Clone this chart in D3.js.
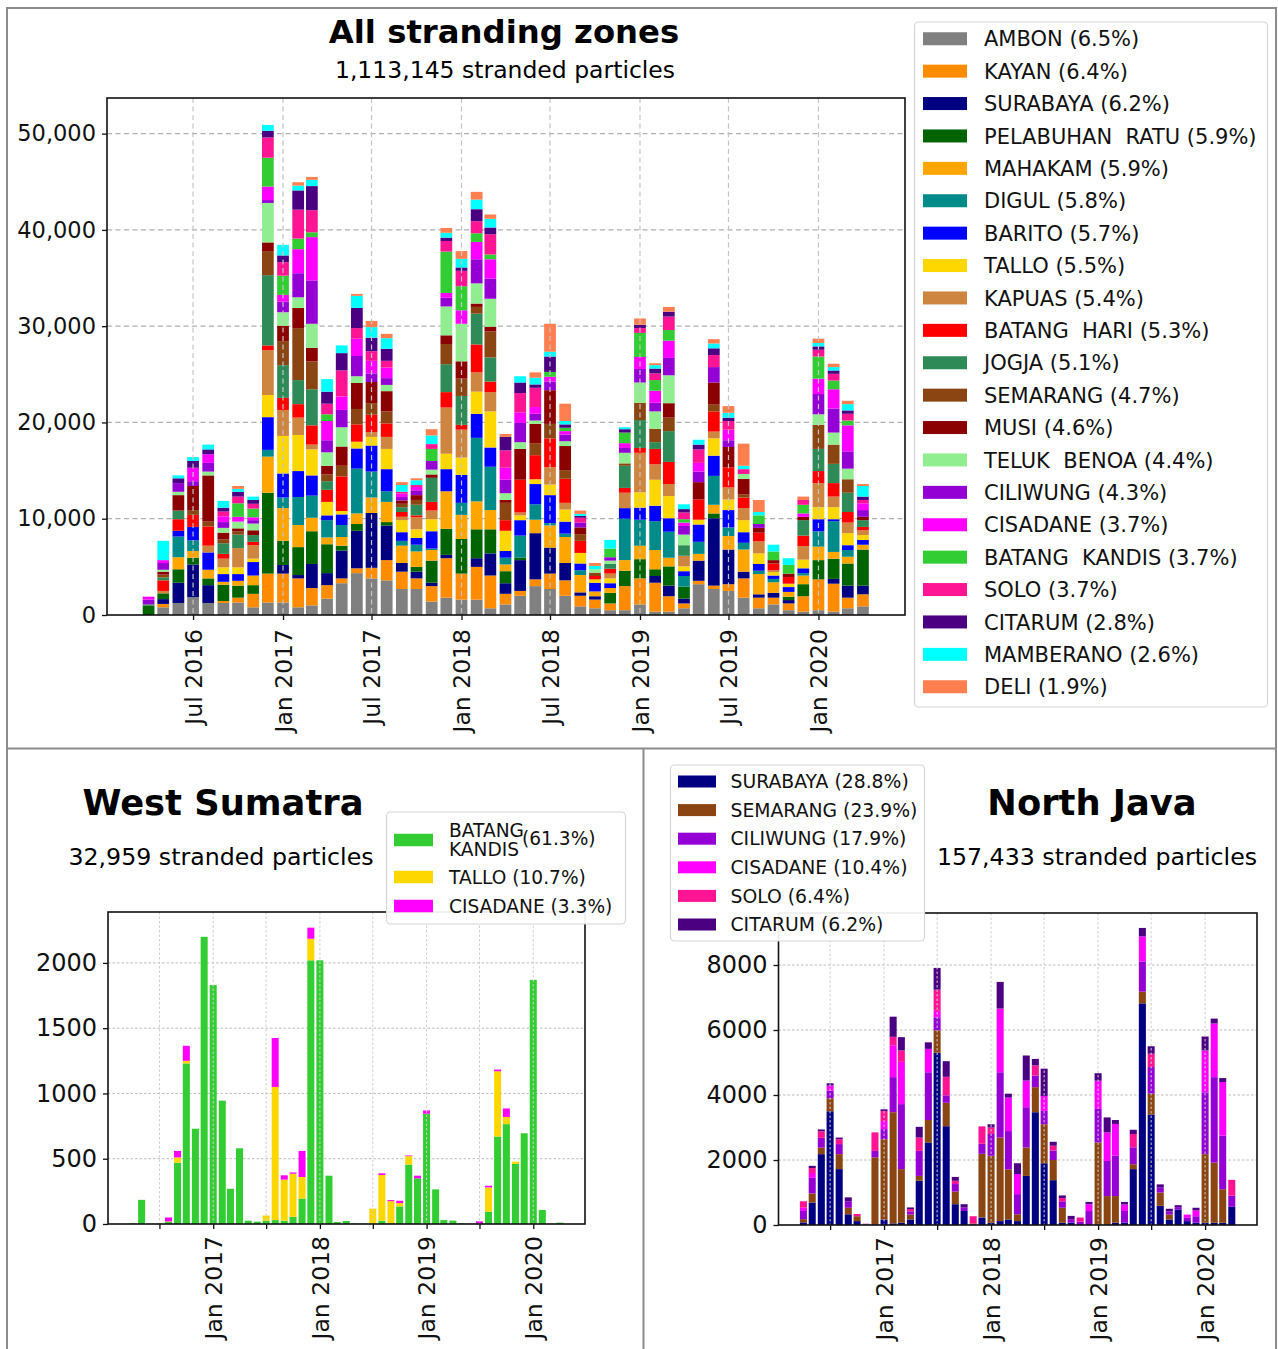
<!DOCTYPE html>
<html>
<head>
<meta charset="utf-8">
<script src="https://cdn.jsdelivr.net/npm/d3@7"></script>
<style>
  body { margin: 0; background: #fff; }
  svg { display: block; font-family: "DejaVu Sans", sans-serif; }
  text { white-space: pre; }
</style>
</head>
<body>
<svg id="fig" width="1278" height="1349"></svg>
<script>
"use strict";

// one bar per month, Apr 2016 .. Apr 2020
const months = d3.timeMonth.range(new Date(2016, 3, 1), new Date(2020, 4, 1));

const topTickLabels = ["Jul 2016", "Jan 2017", "Jul 2017", "Jan 2018", "Jul 2018", "Jan 2019", "Jul 2019", "Jan 2020"];
const topYTicks = [0, 10000, 20000, 30000, 40000, 50000];
const wsYTicks = [0, 500, 1000, 1500, 2000];
const njYTicks = [0, 2000, 4000, 6000, 8000];

// ---- All stranding zones (particles per month) ----
const zoneNames = ["AMBON", "KAYAN", "SURABAYA", "PELABUHAN RATU", "MAHAKAM", "DIGUL", "BARITO", "TALLO",
  "KAPUAS", "BATANG HARI", "JOGJA", "SEMARANG", "MUSI", "TELUK BENOA", "CILIWUNG", "CISADANE",
  "BATANG KANDIS", "SOLO", "CITARUM", "MAMBERANO", "DELI"];
const zoneShares = ["6.5%", "6.4%", "6.2%", "5.9%", "5.9%", "5.8%", "5.7%", "5.5%", "5.4%", "5.3%", "5.1%",
  "4.7%", "4.6%", "4.4%", "4.3%", "3.7%", "3.7%", "3.7%", "2.8%", "2.6%", "1.9%"];

//                2016 Apr..Dec                                   | 2017 Jan..Dec                                                  | 2018 Jan..Dec                                                | 2019 Jan..Dec                                               | 2020 Jan..Apr
const ambon     = [0,800,1250,1850,1250,1250,1300,800,1300,          1300,800,1000,1700,3300,4350,3800,3600,2700,2700,1400,1800,    1600,1600,700,1100,2000,3000,2700,2000,900,700,500,500,        1100,350,350,700,3200,2700,2500,1800,700,1100,500,350,        500,350,700,900];
const kayan     = [0,350,0,0,0,200,500,1400,3000,                    3000,3000,1800,1400,500,500,1100,2100,1800,1100,1600,4100,     2700,3400,3400,1100,500,700,1600,1600,1100,900,700,2500,       2700,3000,1600,500,350,350,700,2000,1100,700,700,1600,        3200,2900,1100,1250];
const surabaya  = [0,500,2100,3400,1850,0,0,0,0,                     900,350,2500,1250,2900,3900,5700,3600,900,700,350,350,         0,900,2300,1100,3200,4800,2700,1800,350,350,0,0,               0,700,1100,500,2100,7000,3600,700,350,500,350,0,              0,500,1250,900];
const pelRatu   = [1000,600,1400,700,700,1700,1250,900,8400,         2500,2900,3400,3000,500,700,0,350,0,500,2300,2700,             3600,3000,2500,1250,250,0,0,0,0,0,1100,1600,                   2000,700,2000,1250,0,500,0,0,0,0,350,1250,                    2000,2100,2300,3750];
const mahakam   = [0,0,1250,700,900,300,500,1000,3750,               3400,2300,1400,700,900,1100,1600,2100,1800,1600,1100,3900,     2500,2900,2000,700,0,1400,2300,2700,1800,500,500,1100,         1400,2000,900,0,700,900,1400,2300,2100,1100,500,900,          1400,700,700,500];
const digul     = [0,0,2150,1100,0,0,0,0,700,                        1100,2900,2300,1800,1250,4650,2700,1100,500,700,150,0,         1250,6600,4500,700,2300,1600,250,350,500,0,0,4300,             2700,3000,2700,1100,1250,3000,900,700,350,350,0,250,          1600,3200,700,0];
const barito    = [0,0,600,1400,1800,800,700,1400,3400,              2500,2700,2100,500,1100,2100,2700,2300,900,700,1800,2300,      2900,2500,2000,700,1600,2100,2900,1250,700,900,500,1100,       1250,1600,1400,500,1800,2100,1800,1100,700,350,500,500,       1250,200,500,500];
const tallo     = [0,0,0,0,0,700,700,350,2300,                       3900,3750,2700,1400,350,700,900,2100,1250,900,1250,1600,       1800,2300,3750,2100,500,500,1100,1250,1100,350,500,0,          1600,2700,2300,500,500,1800,1100,1250,1100,350,350,900,       1250,1250,1250,500];
const kapuas    = [0,250,0,0,700,900,2000,1400,4650,                 2700,1800,500,0,0,0,500,1250,350,1250,900,4800,                2900,2000,2000,0,300,0,1800,700,0,0,500,1600,                  4100,1600,1250,1100,0,700,1250,1250,1250,200,0,1400,          2500,1100,1100,500];
const batangHari= [0,1100,1200,1250,2000,500,0,350,500,              1250,1400,2000,1250,3600,1800,1800,1400,500,200,900,1600,      500,2900,1100,1100,3400,2500,3000,2500,1250,350,500,500,       500,1600,2300,0,2100,2100,2100,1100,900,700,700,1100,         1250,1400,1100,350];
const jogja     = [100,300,900,0,0,1100,1400,700,7300,               3400,2500,3750,900,0,0,0,0,500,1100,2500,2900,                 3000,3200,2500,0,0,0,0,0,0,0,500,2300,                         2900,700,3200,1100,0,0,0,0,0,0,0,1600,                        2300,2000,2000,700];
const semarang  = [0,300,0,500,500,400,350,0,2500,                   2500,5400,2900,700,1100,1600,1200,1250,350,500,0,2100,         1800,700,2700,1800,0,1250,1500,900,700,350,0,250,              1800,1400,1400,0,0,700,0,350,0,0,0,0,                         2500,2000,1400,0];
const musi      = [0,300,1600,2500,4800,700,300,500,900,             1600,2100,1400,900,2000,2700,2200,2100,350,500,350,900,        1800,350,500,300,3200,2000,3500,2500,700,0,0,0,                0,0,1500,0,1800,2300,2100,1600,500,350,350,350,               0,0,0,350];
const telukBenoa= [0,200,350,0,400,500,700,700,4100,                 1400,1100,2500,1400,2000,700,0,650,0,0,500,3000,               3900,2100,2900,700,700,350,0,500,0,350,350,1100,               2100,1800,2900,1100,0,0,0,500,0,0,0,0,                        1100,1250,1100,0];
const ciliwung  = [500,700,900,500,900,600,0,350,300,                1100,2500,4500,1250,1800,2100,900,700,350,500,900,900,         0,2500,2100,1400,2000,700,900,700,500,0,350,500,               1400,900,1800,900,1100,1600,700,0,400,0,0,0,                  2100,2500,1800,700];
const cisadane  = [300,300,0,1400,900,600,500,300,1400,              700,2500,4500,2000,1400,1800,1300,1100,350,350,0,500,          1400,1800,2000,1250,1100,700,500,350,0,0,0,500,                1250,1250,1800,350,900,0,1100,0,0,0,0,350,                    1600,2000,2700,700];
const batangKandis = [0,0,0,0,0,0,1400,900,3000,                     2000,1100,500,700,0,0,0,0,0,0,1250,4300,                       2500,900,500,0,0,0,500,350,0,0,900,1100,                       2500,1100,1100,350,0,0,0,0,900,900,900,900,                   2300,900,500,0];
const solo      = [0,0,0,0,0,500,700,500,2100,                       1400,3000,2300,1100,2700,1100,1000,700,200,200,500,1100,       1600,1250,2100,1800,2000,2000,0,0,500,0,0,0,                   500,700,1400,700,1400,1250,900,500,0,0,0,500,                 700,700,700,350];
const citarum   = [0,0,500,700,500,400,500,400,700,                  700,2000,2500,1250,1800,2100,1400,1250,0,0,0,350,              350,1250,700,1400,1100,350,1600,350,200,0,0,350,               350,500,500,350,500,700,350,0,0,0,0,0,                        350,350,350,350];
const mamberano = [0,2000,300,400,500,700,300,350,600,               1100,500,650,1300,800,1250,1100,1100,700,500,900,500,          900,1000,900,0,650,700,500,350,200,350,900,200,                0,350,0,500,500,500,500,350,350,700,700,0,                    350,350,650,1100];
const deli      = [0,0,0,0,0,0,300,0,0,                              0,350,300,0,0,200,650,450,300,200,650,500,                     800,800,450,300,0,550,2900,1800,350,300,0,0,                   650,200,500,0,0,450,700,2300,1250,0,0,350,                    450,350,350,200];

const zoneValues = [ambon, kayan, surabaya, pelRatu, mahakam, digul, barito, tallo, kapuas, batangHari, jogja,
  semarang, musi, telukBenoa, ciliwung, cisadane, batangKandis, solo, citarum, mamberano, deli];
const zoneColors = ["#808080", "#ff8c00", "#000080", "#006400", "#ffa500", "#008b8b", "#0000ff", "#ffd700",
  "#cd853f", "#ff0000", "#2e8b57", "#8b4513", "#8b0000", "#90ee90", "#9400d3", "#ff00ff", "#32cd32",
  "#ff1493", "#4b0082", "#00ffff", "#ff7f50"];

// ---- West Sumatra ----
const wsNames = ["BATANG KANDIS", "TALLO", "CISADANE"];
const wsShares = ["61.3%", "10.7%", "3.3%"];
const wsBatangKandis = [5,185,3,3,15,470,1230,730,2200,   1830,945,270,580,25,18,25,30,25,55,195,2020,   2020,370,15,23,3,3,3,25,5,135,455,350,   845,265,30,26,5,2,2,95,670,765,460,695,   1870,107,2,10];
const wsTallo        = [0,0,0,0,5,40,20,0,0,              0,0,0,0,0,0,40,1020,315,330,165,165,           0,0,0,0,0,0,115,350,170,25,65,0,         0,0,0,0,0,0,0,185,500,55,18,0,            0,0,0,0];
const wsCisadane     = [0,0,0,0,30,50,115,0,0,            0,0,0,0,0,0,0,375,33,10,200,85,                0,0,0,0,0,0,0,13,8,18,5,20,              25,0,0,0,0,0,18,13,13,65,0,0,             0,0,0,0];
const wsColors = ["#32cd32", "#ffd700", "#ff00ff"];

// ---- North Java ----
const njNames = ["SURABAYA", "SEMARANG", "CILIWUNG", "CISADANE", "SOLO", "CITARUM"];
const njShares = ["28.8%", "23.9%", "17.9%", "10.4%", "6.4%", "6.2%"];
const njSurabaya = [80,690,2180,3500,1720,330,120,10,20,     170,50,70,170,1360,2540,5300,3040,640,430,20,230,      70,120,170,120,1510,3470,1900,1380,70,70,0,0,      20,20,70,70,1720,6820,3400,590,170,480,120,70,   70,70,70,560];
const njSemarang = [100,280,200,400,460,200,150,10,2060,     2470,3420,1650,150,150,690,690,720,390,0,30,1960,      2060,2570,1540,210,875,770,1200,620,460,0,0,0,     2520,870,820,0,150,360,640,410,150,0,0,0,        2110,1850,1030,0];
const njCiliwung = [250,480,300,240,310,200,0,0,200,         310,1080,2000,100,770,1470,400,230,230,110,0,310,      670,2010,1180,620,1240,360,410,290,200,110,100,430, 1030,1080,1240,360,520,930,820,150,100,70,100,200, 1900,2630,1650,340];
const njCisadane = [100,150,0,150,0,0,0,10,0,                250,980,1300,0,0,720,200,0,0,0,0,0,                    0,1960,1030,620,820,0,460,0,0,0,0,210,             870,880,980,200,0,770,0,0,0,0,100,180,           1290,1650,1650,0];
const njSolo     = [200,150,200,0,150,0,70,10,570,           310,260,350,70,410,0,650,570,100,0,220,535,            200,0,0,0,0,310,0,150,100,0,130,0,                 0,0,0,0,410,0,410,0,0,0,0,0,                     0,0,0,490];
const njCitarum  = [0,70,60,70,50,120,0,0,0,                 50,620,410,50,330,200,670,480,120,100,0,0,             100,820,120,330,770,200,840,120,80,100,0,70,       230,460,120,80,130,260,230,100,80,60,0,80,       430,150,120,0];
const njColors = ["#000080", "#8b4513", "#9400d3", "#ff00ff", "#ff1493", "#4b0082"];

// --------------------------------------------------------------------
const fig = d3.select("#fig");
const xDomain = [new Date(2016, 0, 7), new Date(2020, 5, 26)];
const tickDates = topTickLabels.map(d3.timeParse("%b %Y"));
const fmtMonth = d3.timeFormat("%b %Y");
const ink = "#111";

// panel frames
fig.append("rect").attr("x", 7).attr("y", 8).attr("width", 1269).attr("height", 1350)
  .attr("fill", "none").attr("stroke", "#8c8c8c").attr("stroke-width", 2);
fig.append("line").attr("x1", 7).attr("x2", 1276).attr("y1", 748.5).attr("y2", 748.5)
  .attr("stroke", "#8c8c8c").attr("stroke-width", 2);
fig.append("line").attr("x1", 643.5).attr("x2", 643.5).attr("y1", 748).attr("y2", 1349)
  .attr("stroke", "#8c8c8c").attr("stroke-width", 2);

function stackedChart(o) {
  const x = d3.scaleTime().domain(xDomain).range([o.left, o.right]);
  const y = d3.scaleLinear().domain([0, o.yMax]).range([o.bottom, o.top]);
  const g = fig.append("g");

  const rows = months.map((m, i) => {
    const r = { date: m };
    o.keys.forEach((k, j) => { r[k] = o.values[j][i]; });
    return r;
  });
  const layers = d3.stack().keys(o.keys)(rows);
  const barW = x(d3.timeDay.offset(months[0], 24)) - x(months[0]);

  // horizontal grid sits behind the bars
  g.append("g").selectAll("line").data(o.yTicks.slice(1)).join("line")
    .attr("x1", o.left).attr("x2", o.right)
    .attr("y1", d => y(d)).attr("y2", d => y(d))
    .attr("stroke", o.grid).attr("stroke-width", o.gridW).attr("stroke-dasharray", o.dash);

  g.append("g").selectAll("g").data(layers).join("g")
    .attr("fill", (d, i) => o.colors[i])
    .selectAll("rect").data(d => d).join("rect")
    .attr("x", d => x(d.data.date) - barW / 2)
    .attr("y", d => y(d[1]))
    .attr("width", barW)
    .attr("height", d => y(d[0]) - y(d[1]));

  // vertical grid is drawn over the bars
  g.append("g").selectAll("line").data(tickDates).join("line")
    .attr("x1", d => x(d)).attr("x2", d => x(d))
    .attr("y1", o.top).attr("y2", o.bottom)
    .attr("stroke", o.vgrid).attr("stroke-width", o.gridW).attr("stroke-dasharray", o.dash);

  g.append("rect").attr("x", o.left).attr("y", o.top)
    .attr("width", o.right - o.left).attr("height", o.bottom - o.top)
    .attr("fill", "none").attr("stroke", ink).attr("stroke-width", 1.6);

  const yAxis = g.append("g").attr("transform", `translate(${o.left},0)`)
    .call(d3.axisLeft(y).tickValues(o.yTicks).tickFormat(o.yFormat).tickSize(5).tickPadding(6));
  yAxis.select(".domain").remove();
  yAxis.attr("font-family", null).attr("font-size", o.yFont).attr("color", ink);
  yAxis.selectAll("line").attr("stroke-width", 1.3);

  const xAxis = g.append("g").attr("transform", `translate(0,${o.bottom})`)
    .call(d3.axisBottom(x).tickValues(tickDates).tickFormat(o.xFormat).tickSize(5));
  xAxis.select(".domain").remove();
  xAxis.attr("font-family", null).attr("font-size", o.xFont).attr("color", ink);
  xAxis.selectAll("line").attr("stroke-width", 1.3);
  xAxis.selectAll("text")
    .attr("transform", "rotate(-90)")
    .attr("text-anchor", "end")
    .attr("x", -o.xPad).attr("y", 0).attr("dy", "0.35em");
}

function legend(o) {
  const g = fig.append("g");
  g.append("rect").attr("x", o.x).attr("y", o.y).attr("width", o.w).attr("height", o.h)
    .attr("rx", 4).attr("fill", "#fff").attr("fill-opacity", 0.92)
    .attr("stroke", "#d6d6d6").attr("stroke-width", 1.2);
  o.rows.forEach((r, i) => {
    const cy = o.rowY[i];
    g.append("rect").attr("x", o.sx).attr("y", cy - o.sh / 2)
      .attr("width", o.sw).attr("height", o.sh).attr("fill", o.colors[i]);
    r.forEach(t => {
      g.append("text").attr("x", t.x).attr("y", cy + (t.dy || 0)).attr("dy", "0.36em")
        .attr("font-size", o.font).attr("fill", ink).attr("xml:space", "preserve").text(t.text);
    });
  });
}

function title(x, y, size, weight, str) {
  fig.append("text").attr("x", x).attr("y", y).attr("text-anchor", "middle")
    .attr("font-size", size).attr("font-weight", weight).attr("fill", "#000").text(str);
}

// ---- top panel ----
stackedChart({
  left: 107, right: 905, top: 98, bottom: 615, yMax: 53700,
  keys: zoneNames, values: zoneValues, colors: zoneColors,
  yTicks: topYTicks, yFormat: d3.format(","), yFont: 22.5,
  xFormat: fmtMonth, xFont: 23.5, xPad: 14,
  grid: "#b0b0b0", vgrid: "#c4c4c4", gridW: 1.2, dash: "5,3.5"
});
title(504, 43, 32.3, "bold", "All stranding zones");
title(505, 78, 23.5, "normal", "1,113,145 stranded particles");
legend({
  x: 914.5, y: 22, w: 353, h: 685, sx: 923, sw: 44, sh: 13, font: 21, colors: zoneColors,
  rowY: zoneNames.map((n, i) => 38.75 + i * 32.4),
  rows: zoneNames.map((n, i) => [{ x: 984, text: `${n.replace(/ /g, "  ")} (${zoneShares[i]})` }])
});

// ---- West Sumatra ----
stackedChart({
  left: 108, right: 585, top: 912, bottom: 1224, yMax: 2390,
  keys: wsNames, values: [wsBatangKandis, wsTallo, wsCisadane], colors: wsColors,
  yTicks: wsYTicks, yFormat: d3.format("d"), yFont: 24,
  xFormat: d => d.getMonth() === 0 ? fmtMonth(d) : "", xFont: 23.5, xPad: 12,
  grid: "#bdbdbd", vgrid: "#cfcfcf", gridW: 1, dash: "2.5,2"
});
title(223, 815, 35.3, "bold", "West Sumatra");
title(221, 865, 23.7, "normal", "32,959 stranded particles");
legend({
  x: 386.5, y: 812, w: 239, h: 112, sx: 394, sw: 39, sh: 12.5, font: 18.6, colors: wsColors,
  rowY: [840, 877, 906],
  rows: [
    [{ x: 449, dy: -10, text: "BATANG" }, { x: 449, dy: 9, text: "KANDIS" }, { x: 522, dy: -2, text: `(${wsShares[0]})` }],
    [{ x: 449, text: `${wsNames[1]} (${wsShares[1]})` }],
    [{ x: 449, text: `${wsNames[2]} (${wsShares[2]})` }]
  ]
});

// ---- North Java ----
stackedChart({
  left: 778.5, right: 1257, top: 913, bottom: 1225, yMax: 9600,
  keys: njNames, values: [njSurabaya, njSemarang, njCiliwung, njCisadane, njSolo, njCitarum], colors: njColors,
  yTicks: njYTicks, yFormat: d3.format("d"), yFont: 24,
  xFormat: d => d.getMonth() === 0 ? fmtMonth(d) : "", xFont: 23.5, xPad: 12,
  grid: "#bdbdbd", vgrid: "#cfcfcf", gridW: 1, dash: "2.5,2"
});
title(1092, 815, 35.3, "bold", "North Java");
title(1097, 865, 23.7, "normal", "157,433 stranded particles");
legend({
  x: 670.5, y: 765, w: 254, h: 176, sx: 678, sw: 38, sh: 12, font: 18.8, colors: njColors,
  rowY: njNames.map((n, i) => 781.5 + i * 28.6),
  rows: njNames.map((n, i) => [{ x: 730.5, text: `${n} (${njShares[i]})` }])
});
</script>
</body>
</html>
